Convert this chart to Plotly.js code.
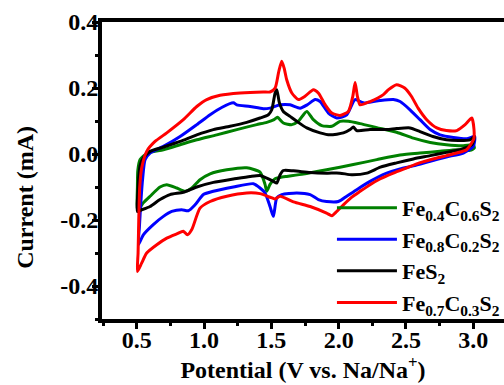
<!DOCTYPE html>
<html>
<head>
<meta charset="utf-8">
<script src="https://cdn.plot.ly/plotly-3.0.1.min.js"></script>
<style>html,body{margin:0;padding:0;background:#fff;}#chart{width:504px;height:385px;}</style>
</head>
<body>
<div id="chart"></div>
<script>
// Series names (legend order)
const seriesNames = ["Fe<sub>0.4</sub>C<sub>0.6</sub>S<sub>2</sub>", "Fe<sub>0.8</sub>C<sub>0.2</sub>S<sub>2</sub>", "FeS<sub>2</sub>", "Fe<sub>0.7</sub>C<sub>0.3</sub>S<sub>2</sub>"];
const seriesColors = ["#008000", "#0000ff", "#000000", "#ff0000"];

// Fe0.4C0.6S2 (green): anodic sweep then cathodic sweep
const greenV = [0.505,0.505,0.508,0.525,0.574,0.698,0.822,0.946,1.094,1.243,1.391,1.466,1.52,1.545,1.589,1.652,1.70,1.763,1.812,1.874,1.949,2.01,2.072,2.159,2.283,2.43,2.555,2.68,2.80,2.926,3.0,3.008,
  2.976,2.877,2.753,2.604,2.456,2.283,2.109,1.91,1.738,1.614,1.565,1.527,1.49,1.466,1.453,1.416,1.317,1.169,1.045,0.97,0.909,0.859,0.797,0.723,0.673,0.599,0.549,0.515,0.505];
const greenI = [-0.165,-0.10,-0.05,-0.017,0.001,0.013,0.028,0.043,0.058,0.074,0.089,0.096,0.104,0.111,0.094,0.089,0.099,0.129,0.104,0.086,0.084,0.099,0.099,0.092,0.080,0.066,0.048,0.035,0.028,0.025,0.028,0.018,
  0.011,0.013,0.008,0.003,-0.003,-0.017,-0.032,-0.048,-0.061,-0.068,-0.071,-0.075,-0.092,-0.113,-0.092,-0.055,-0.042,-0.048,-0.060,-0.078,-0.103,-0.113,-0.103,-0.093,-0.100,-0.128,-0.148,-0.166,-0.165];

// Fe0.8C0.2S2 (blue)
const blueV = [0.512,0.52,0.53,0.545,0.562,0.599,0.698,0.822,0.946,1.045,1.131,1.218,1.243,1.342,1.44,1.49,1.565,1.639,1.713,1.77,1.825,1.862,1.924,1.986,2.06,2.122,2.184,2.307,2.406,2.456,2.53,2.604,2.679,2.753,2.852,2.952,3.01,3.0,
  2.926,2.80,2.68,2.555,2.456,2.357,2.233,2.134,2.06,1.998,1.91,1.849,1.788,1.689,1.577,1.54,1.515,1.49,1.453,1.416,1.366,1.218,1.069,0.995,0.933,0.883,0.834,0.76,0.698,0.623,0.549,0.512];
const blueI = [-0.275,-0.22,-0.15,-0.07,-0.017,0.003,0.023,0.053,0.089,0.119,0.141,0.155,0.149,0.144,0.137,0.139,0.149,0.149,0.139,0.150,0.165,0.159,0.124,0.109,0.119,0.165,0.155,0.162,0.165,0.159,0.134,0.104,0.074,0.058,0.050,0.046,0.053,0.023,
  0.003,-0.009,-0.022,-0.036,-0.045,-0.058,-0.083,-0.108,-0.128,-0.144,-0.144,-0.138,-0.123,-0.118,-0.123,-0.133,-0.189,-0.159,-0.118,-0.103,-0.090,-0.100,-0.113,-0.123,-0.154,-0.172,-0.169,-0.174,-0.189,-0.214,-0.245,-0.275];

// FeS2 (black)
const blackV = [0.505,0.508,0.515,0.525,0.549,0.599,0.698,0.822,0.946,1.069,1.193,1.317,1.416,1.478,1.503,1.528,1.54,1.56,1.589,1.639,1.689,1.763,1.862,1.936,2.035,2.085,2.109,2.134,2.233,2.357,2.43,2.53,2.604,2.70,2.80,2.90,2.976,3.008,2.99,
  2.90,2.80,2.68,2.555,2.43,2.31,2.209,2.097,2.01,1.91,1.788,1.664,1.589,1.565,1.54,1.515,1.466,1.416,1.342,1.218,1.069,0.946,0.846,0.747,0.673,0.599,0.537,0.505];
const blackI = [-0.174,-0.12,-0.07,-0.035,-0.012,0.008,0.021,0.038,0.058,0.074,0.084,0.096,0.109,0.119,0.134,0.185,0.195,0.155,0.129,0.114,0.099,0.079,0.064,0.058,0.064,0.074,0.082,0.071,0.074,0.074,0.077,0.079,0.068,0.053,0.043,0.041,0.043,0.053,0.028,
  0.013,0.005,-0.005,-0.015,-0.027,-0.040,-0.058,-0.063,-0.058,-0.058,-0.056,-0.051,-0.050,-0.063,-0.088,-0.083,-0.073,-0.065,-0.068,-0.076,-0.086,-0.100,-0.116,-0.123,-0.138,-0.159,-0.169,-0.174];

// Fe0.7C0.3S2 (red)
const redV = [0.505,0.51,0.515,0.522,0.537,0.574,0.636,0.723,0.846,0.946,1.02,1.119,1.268,1.44,1.49,1.528,1.555,1.577,1.595,1.614,1.652,1.70,1.75,1.812,1.849,1.90,1.949,2.01,2.072,2.105,2.122,2.139,2.159,2.233,2.332,2.37,2.43,2.49,2.54,2.59,2.654,2.729,2.80,2.877,2.939,2.989,3.005,3.003,
  2.95,2.877,2.80,2.70,2.60,2.506,2.406,2.31,2.233,2.16,2.10,2.035,1.986,1.949,1.91,1.788,1.664,1.565,1.527,1.49,1.416,1.317,1.169,1.045,0.97,0.909,0.876,0.846,0.797,0.723,0.649,0.574,0.537,0.505];
const redI = [-0.356,-0.30,-0.20,-0.10,-0.042,0.008,0.038,0.064,0.104,0.144,0.165,0.178,0.185,0.188,0.188,0.200,0.250,0.281,0.260,0.225,0.185,0.165,0.175,0.195,0.185,0.149,0.124,0.117,0.129,0.175,0.217,0.175,0.149,0.159,0.180,0.195,0.210,0.200,0.175,0.139,0.104,0.079,0.071,0.071,0.089,0.109,0.075,0.045,
  0.013,0.003,-0.005,-0.015,-0.027,-0.042,-0.058,-0.075,-0.093,-0.113,-0.130,-0.154,-0.174,-0.187,-0.179,-0.159,-0.145,-0.128,-0.136,-0.131,-0.120,-0.118,-0.128,-0.144,-0.164,-0.229,-0.245,-0.234,-0.242,-0.255,-0.275,-0.300,-0.330,-0.356];

const xTickVals = [0.5, 1.0, 1.5, 2.0, 2.5, 3.0];
const xTickText = ["0.5", "1.0", "1.5", "2.0", "2.5", "3.0"];
const yTickVals = [-0.4, -0.2, 0.0, 0.2, 0.4];
const yTickText = ["-0.4", "-0.2", "0.0", "0.2", "0.4"];

const xs = [greenV, blueV, blackV, redV];
const ys = [greenI, blueI, blackI, redI];

const traces = xs.map((x, i) => ({
  x: x, y: ys[i], type: 'scatter', mode: 'lines', name: seriesNames[i],
  line: {color: seriesColors[i], width: 3, shape: 'spline', smoothing: 0.6},
  hoverinfo: 'skip'
}));

const fontFam = 'Liberation Serif, Times New Roman, serif';
const bigFont = {family: fontFam, size: 24, color: '#000', weight: 700};

const layout = {
  width: 504, height: 385,
  margin: {l: 102, r: 0, t: 22, b: 66, autoexpand: false},
  paper_bgcolor: '#fff', plot_bgcolor: '#fff',
  font: bigFont,
  showlegend: true,
  legend: {
    x: 0.572, y: 0.445, xanchor: 'left', yanchor: 'top',
    bgcolor: 'rgba(0,0,0,0)', borderwidth: 0,
    font: {family: fontFam, size: 22, color: '#000', weight: 700},
    itemwidth: 60, tracegroupgap: 0
  },
  xaxis: {
    range: [0.242, 3.228], showgrid: false, zeroline: false, automargin: false,
    showline: true, linewidth: 4, linecolor: '#000', mirror: true,
    ticks: 'outside', ticklen: 6, tickwidth: 3, tickcolor: '#000',
    tickmode: 'array', tickvals: xTickVals, ticktext: xTickText,
    ticklabelstandoff: -10,
    minor: {dtick: 0.25, tick0: 0.25, ticks: 'outside', ticklen: 3, tickwidth: 3, tickcolor: '#000'},
    tickfont: bigFont,
    title: {text: 'Potential (V vs. Na/Na<sup>+</sup>)', font: bigFont, standoff: 4}
  },
  yaxis: {
    range: [-0.5, 0.4], showgrid: false, zeroline: false, automargin: false,
    showline: true, linewidth: 4, linecolor: '#000', mirror: false,
    ticks: 'outside', ticklen: 6, tickwidth: 3, tickcolor: '#000',
    tickmode: 'array', tickvals: yTickVals, ticktext: yTickText,
    ticklabelstandoff: -11,
    minor: {dtick: 0.1, tick0: 0, ticks: 'outside', ticklen: 3, tickwidth: 3, tickcolor: '#000'},
    tickfont: bigFont
  },
  annotations: [{
    text: 'Current (mA)', textangle: -90, xref: 'paper', yref: 'paper',
    x: -0.19, y: 0.41, xanchor: 'center', yanchor: 'middle', showarrow: false,
    font: bigFont
  }]
};

Plotly.newPlot('chart', traces, layout, {displayModeBar: false, staticPlot: true});
</script>
</body>
</html>
